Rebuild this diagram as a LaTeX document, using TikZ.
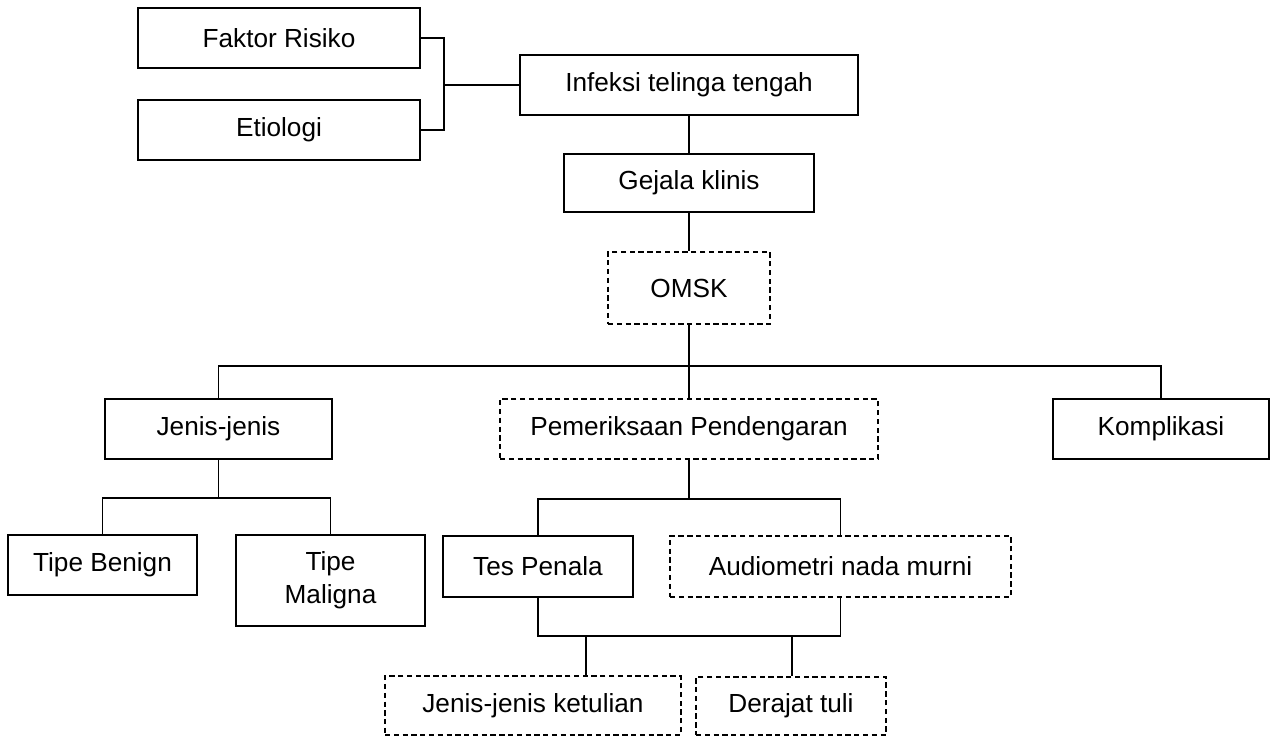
\documentclass[tikz,border=0pt]{standalone}
\usepackage{fontspec}
\setmainfont{Liberation Sans}
\usetikzlibrary{positioning, calc}

\begin{document}
\begin{tikzpicture}[
    boks/.style={draw, line width=0.6pt, align=center, inner sep=0pt,
        font=\fontsize{14.9}{19}\selectfont},
    boksputus/.style={boks, dash pattern=on 3pt off 2pt},
    garis/.style={line width=0.6pt}
]
    \useasboundingbox (0,0) rectangle (25.52,14.72);

    % Top: risk factors and etiology
    \node[boks, minimum width=5.64cm, minimum height=1.2cm] (faktor) at (5.58, 13.96) {Faktor Risiko};
    \node[boks, minimum width=5.64cm, minimum height=1.2cm] (etiologi) at (5.58, 12.12) {Etiologi};
    \node[boks, minimum width=6.76cm, minimum height=1.2cm] (infeksi) at (13.78, 13.02) {Infeksi telinga tengah};
    \node[boks, minimum width=5.0cm, minimum height=1.16cm] (gejala) at (13.78, 11.06) {Gejala klinis};
    \node[boksputus, minimum width=3.24cm, minimum height=1.44cm] (omsk) at (13.78, 8.96) {OMSK};

    % Second level
    \node[boks, minimum width=4.54cm, minimum height=1.2cm] (jenis) at (4.37, 6.14) {Jenis-jenis};
    \node[boksputus, minimum width=7.56cm, minimum height=1.2cm] (periksa) at (13.78, 6.14) {Pemeriksaan Pendengaran};
    \node[boks, minimum width=4.32cm, minimum height=1.2cm] (komplikasi) at (23.22, 6.14) {Komplikasi};

    % Third level
    \node[boks, minimum width=3.78cm, minimum height=1.2cm] (benign) at (2.05, 3.42) {Tipe Benign};
    \node[boks, minimum width=3.78cm, minimum height=1.82cm] (maligna) at (6.61, 3.11) {Tipe\\Maligna};
    \node[boks, minimum width=3.8cm, minimum height=1.22cm] (penala) at (10.76, 3.39) {Tes Penala};
    \node[boksputus, minimum width=6.82cm, minimum height=1.22cm] (audio) at (16.81, 3.39) {Audiometri nada murni};

    % Bottom
    \node[boksputus, minimum width=5.92cm, minimum height=1.18cm] (ketulian) at (10.66, 0.61) {Jenis-jenis ketulian};
    \node[boksputus, minimum width=3.8cm, minimum height=1.16cm] (derajat) at (15.82, 0.6) {Derajat tuli};

    % Junction points
    \coordinate (j1) at (8.88, 13.02);
    \coordinate (j2) at (13.78, 7.4);
    \coordinate (j3) at (4.37, 4.76);
    \coordinate (j4) at (13.78, 4.74);
    \coordinate (j5) at (11.72, 2.0);
    \coordinate (j6) at (15.84, 2.0);

    % Connectors
    \draw[garis] (faktor.east) -| (j1) |- (etiologi.east);
    \draw[garis] (j1) -- (infeksi.west);
    \draw[garis] (infeksi.south) -- (gejala.north);
    \draw[garis] (gejala.south) -- (omsk.north);
    \draw[garis] (omsk.south) -- (j2);
    \draw[garis] (jenis.north) |- (j2) -| (komplikasi.north);
    \draw[garis] (j2) -- (periksa.north);
    \draw[garis] (jenis.south) -- (j3);
    \draw[garis] (benign.north) |- (j3) -| (maligna.north);
    \draw[garis] (periksa.south) -- (j4);
    \draw[garis] (penala.north) |- (j4) -| (audio.north);
    \draw[garis] (penala.south) |- (j5) -- (j6) -| (audio.south);
    \draw[garis] (j5) -- (j5 |- ketulian.north);
    \draw[garis] (j6) -- (j6 |- derajat.north);

\end{tikzpicture}
\end{document}
